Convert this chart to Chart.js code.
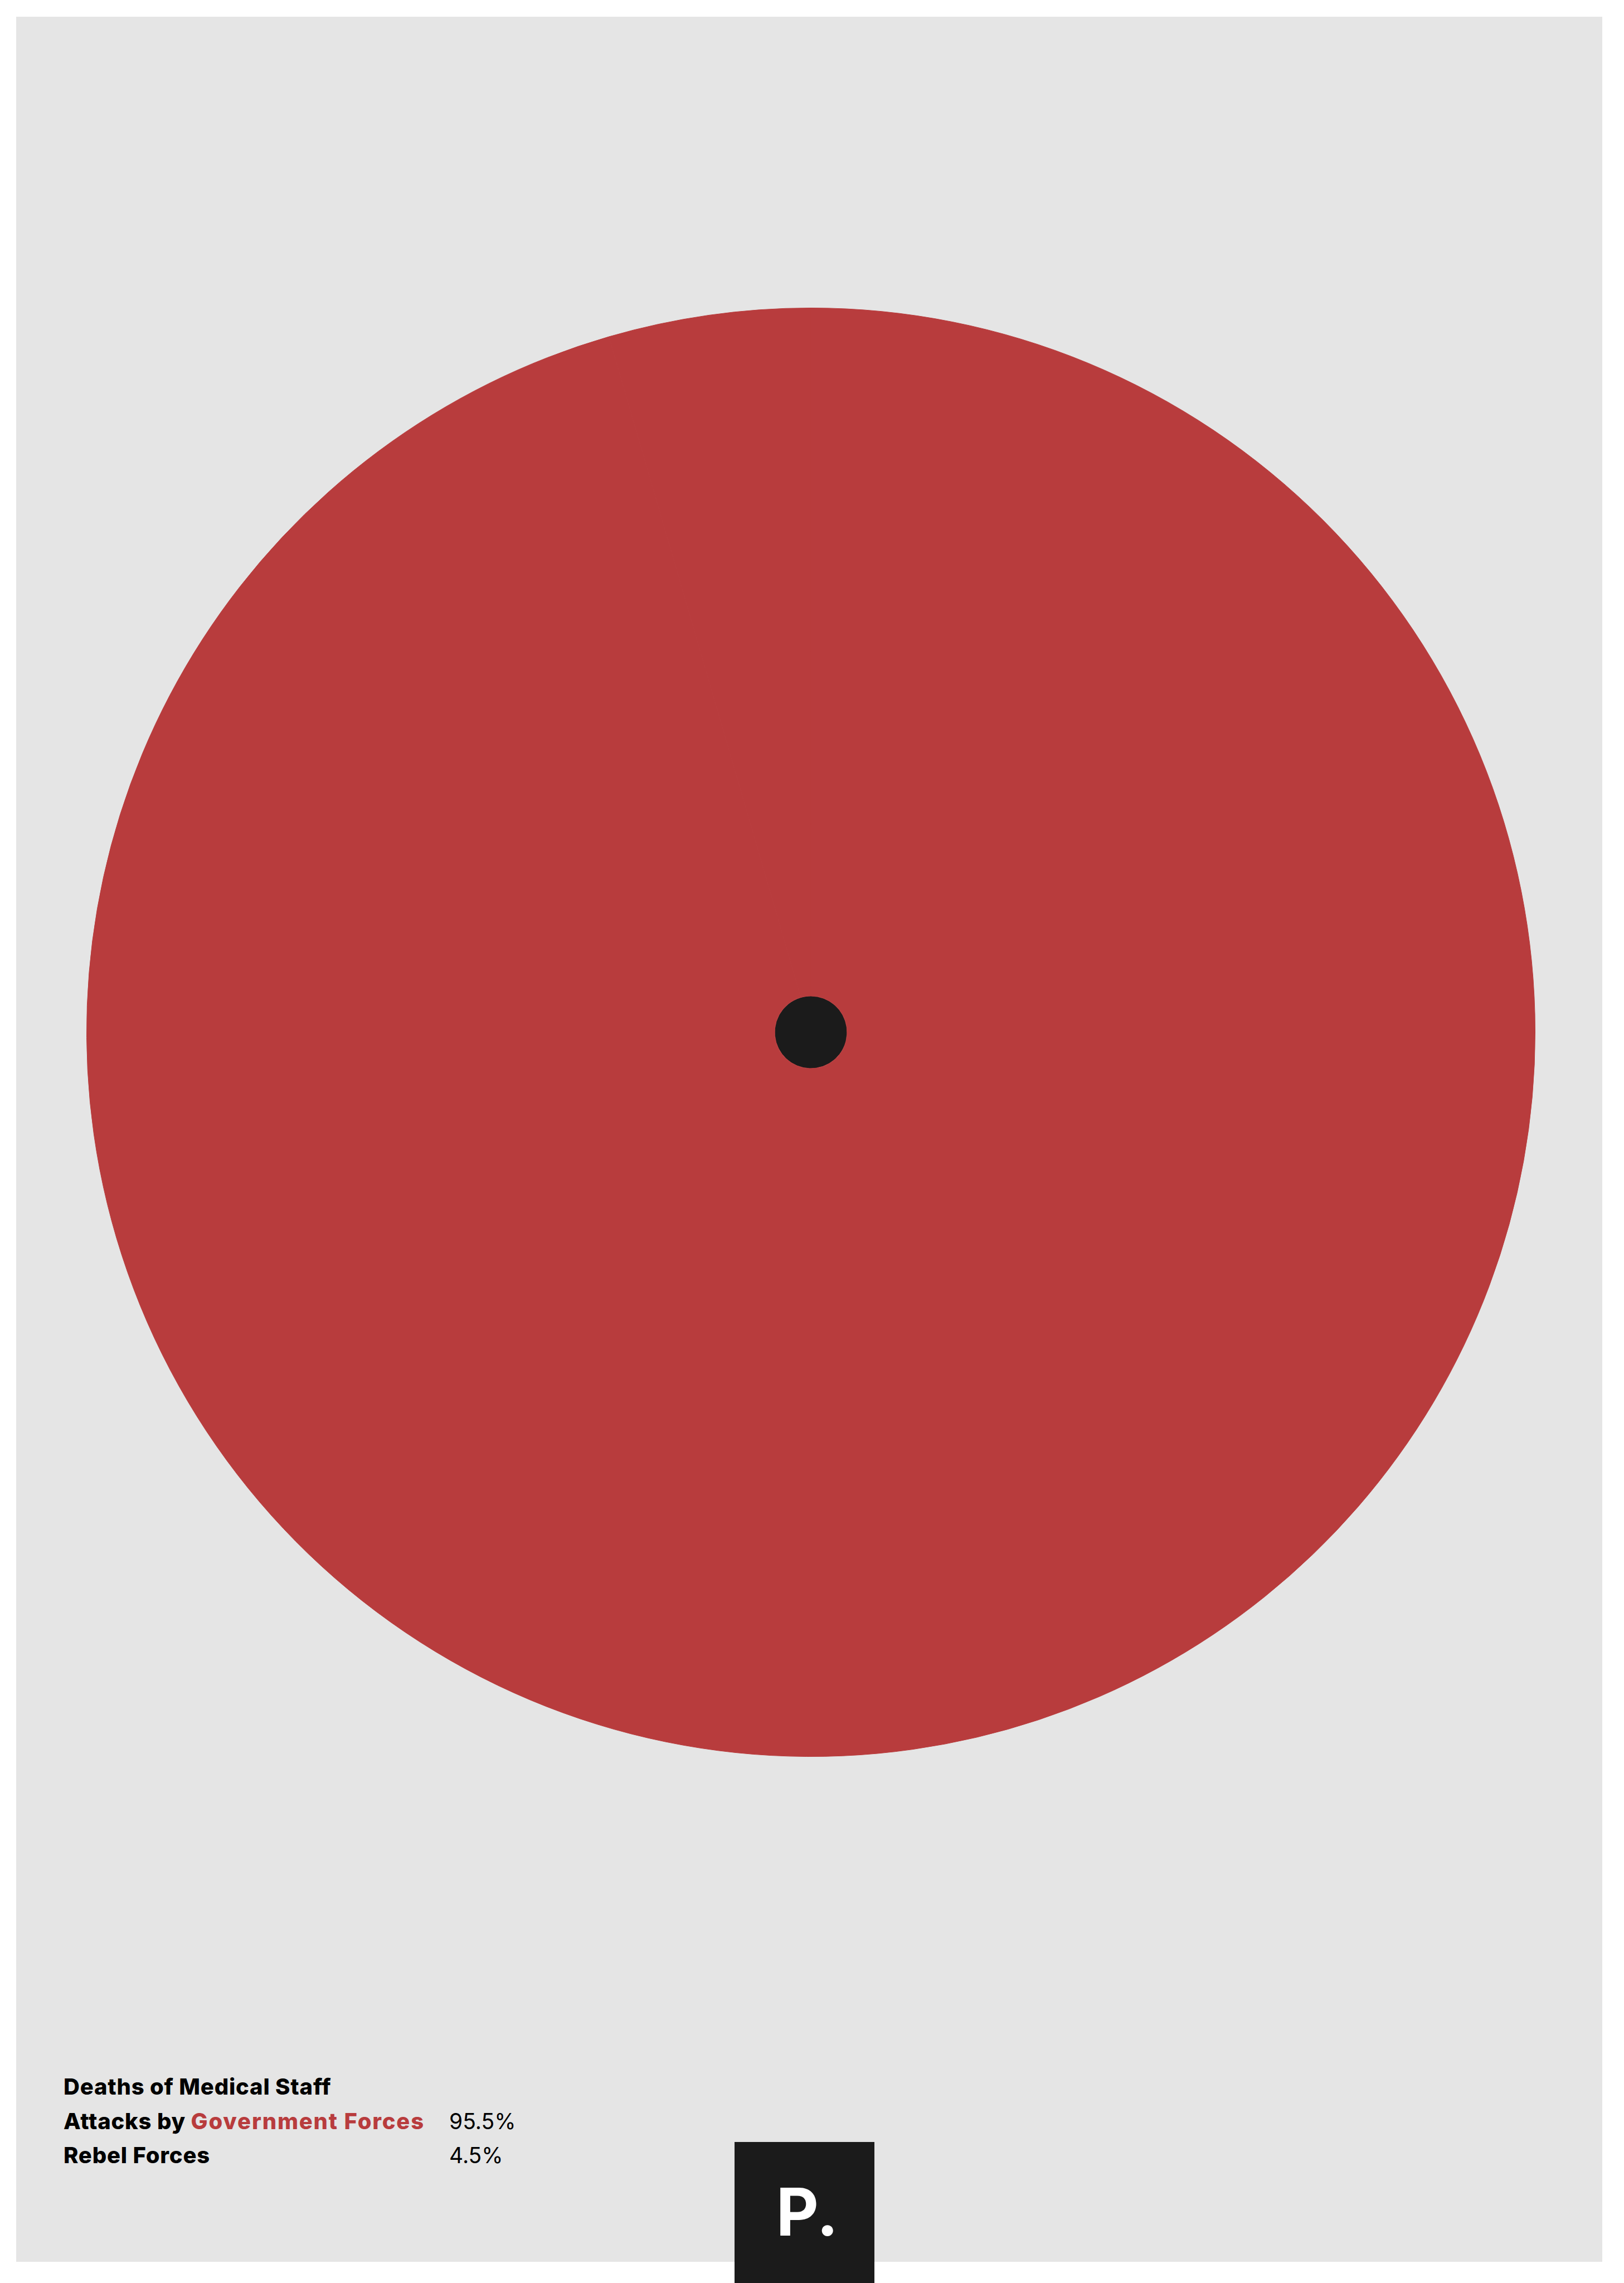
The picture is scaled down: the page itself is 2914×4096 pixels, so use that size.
<!DOCTYPE html>
<html>
<head>
<meta charset="utf-8">
<script src="https://cdn.jsdelivr.net/npm/chart.js@4.4.1/dist/chart.umd.min.js"></script>
<style>
  html, body { margin:0; padding:0; background:#ffffff; width:2914px; height:4096px; overflow:hidden; }
  #panel { position:absolute; left:28.5px; top:30px; width:2846px; height:4028px; background:#e5e5e5; }
  #chartBox { position:absolute; left:155px; top:552px; width:2600px; height:2600px; }
  .t { position:absolute; line-height:0; white-space:nowrap; font-family:Inter, "Open Sans", sans-serif; font-size:39px; color:#000; }
  .b { font-weight:800; font-size:40px; letter-spacing:0.8px; }
  .r { font-weight:400; }
  .hl { letter-spacing:1.8px; }
  #logo { position:absolute; left:1318px; top:3843px; width:251px; height:260px; background:#1b1b1b; }
  #logoText { position:absolute; left:0; width:100%; top:125px; line-height:0; text-align:center; color:#fff; font-family:Inter, sans-serif; font-weight:700; font-size:118px; padding-left:10px; box-sizing:border-box; }
</style>
</head>
<body>
<div id="panel"></div>
<div id="chartBox"><canvas id="c"></canvas></div>
<div id="legend"></div>
<div id="logo"><div id="logoText">P.</div></div>
<script>
// ---- data ----
const title = 'Deaths of Medical Staff';
const categories = ['Government Forces', 'Rebel Forces'];
const shares = [95.5, 4.5];            // percent of deaths of medical staff
const shareLabels = ['95.5%', '4.5%'];
const centerDot = [1];
// ---- colours ----
const RED = '#b83c3d';
const DARK = '#1b1b1b';

new Chart(document.getElementById('c'), {
  type: 'doughnut',
  data: {
    labels: categories,
    datasets: [
      { data: shares, backgroundColor: [RED, RED], borderColor: [RED, RED], borderWidth: 1, weight: 19 },
      { data: centerDot, backgroundColor: [DARK], borderColor: [DARK], borderWidth: 0, weight: 1 }
    ]
  },
  options: {
    responsive: true,
    maintainAspectRatio: false,
    animation: false,
    cutout: 0,
    layout: { padding: 0 },
    plugins: { legend: { display: false }, tooltip: { enabled: false } }
  }
});

// ---- text block ----
const legend = document.getElementById('legend');
function addText(html, cls, x, baseline) {
  const d = document.createElement('div');
  d.className = 't ' + cls;
  d.style.left = x + 'px';
  d.style.top = (baseline - 14) + 'px';
  d.innerHTML = html;
  legend.appendChild(d);
}
addText(title, 'b', 114, 3758);
addText('Attacks by <span class="hl" style="color:' + RED + '">' + categories[0] + '</span>', 'b', 114, 3820);
addText(shareLabels[0], 'r', 806, 3820);
addText(categories[1], 'b', 114, 3881);
addText(shareLabels[1], 'r', 806, 3881);
</script>
</body>
</html>
